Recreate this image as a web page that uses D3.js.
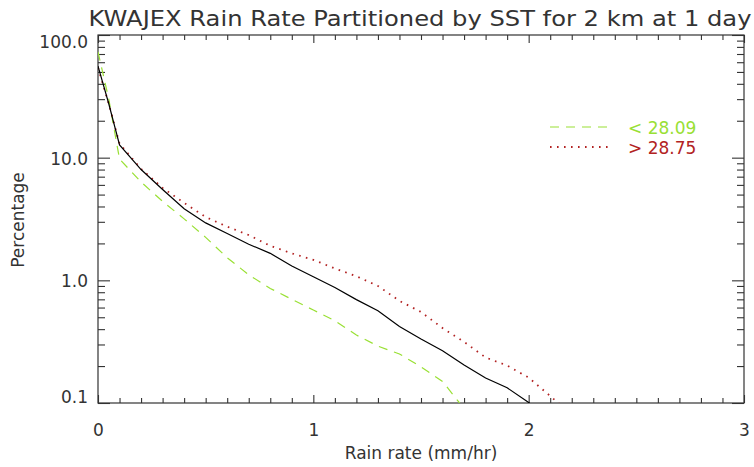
<!DOCTYPE html>
<html>
<head>
<meta charset="utf-8">
<script src="https://cdn.jsdelivr.net/npm/d3@7"></script>
<style>
  body { margin: 0; background: #fff; }
  svg { display: block; font-family: "DejaVu Sans", sans-serif; }
</style>
</head>
<body>
<svg id="vis-svg" width="754" height="467"></svg>
<script>
var width  = 754;
var height = 467;
var margin = { top: 35, bottom: 64, left: 98, right: 10 };

// rain rate bins (mm/hr) and percentages
const rainRate = [0, 0.05, 0.1, 0.2, 0.3, 0.4, 0.5, 0.6, 0.7, 0.8, 0.9, 1.0, 1.1, 1.2, 1.3, 1.4, 1.5, 1.6, 1.7, 1.8, 1.9, 2.0, 2.1, 2.2];
const pctAll  = [55.8, 27.5, 12.7, 8.0, 5.5, 3.84, 2.94, 2.41, 1.97, 1.66, 1.31, 1.07, 0.874, 0.696, 0.565, 0.42, 0.332, 0.267, 0.204, 0.16, 0.133, 0.101, 0.07, null];
const pctCold = [73, 30, 9.74, 6.33, 4.40, 3.17, 2.24, 1.53, 1.11, 0.859, 0.70, 0.573, 0.468, 0.358, 0.291, 0.251, 0.197, 0.150, 0.09, null, null, null, null, null];
const pctWarm = [54, 27.5, 13.0, 8.1, 5.67, 4.28, 3.28, 2.74, 2.34, 1.91, 1.66, 1.47, 1.25, 1.08, 0.90, 0.68, 0.552, 0.408, 0.315, 0.235, 0.202, 0.161, 0.114, 0.08];

const xTicks = [0, 1, 2, 3];
const yTicks = [0.1, 1, 10, 100];
const yTickLabels = ["0.1", "1.0", "10.0", "100.0"];
const legendLabels = ["< 28.09", "> 28.75"];

const green = "#99e034";
const red = "#b22222";
const axisColor = "#333";
const textColor = "#333";

const graphWidth = width - margin.left - margin.right;
const graphHeight = height - margin.top - margin.bottom;

const svg = d3.select("#vis-svg");
const graph = svg.append("g").attr("transform", `translate(${margin.left},${margin.top})`);

var x = d3.scaleLinear().domain([0, 3]).range([0, graphWidth]);
var y = d3.scaleLog().domain([0.1, 100]).range([graphHeight, 0]);

// minor ticks
const xMinor = d3.range(0, 30.5).map(d => d / 10).filter(d => !xTicks.includes(d));
const yMinor = [];
[0.1, 1, 10].forEach(dec => { for (let k = 2; k <= 9; k++) yMinor.push(dec * k); });

const styleAxis = g => {
  g.select(".domain").remove();
  g.selectAll("line").attr("stroke", axisColor).attr("stroke-width", 1.1);
  g.selectAll("text").attr("fill", textColor).attr("font-size", 17).attr("font-family", "DejaVu Sans, sans-serif");
};

// bottom
graph.append("g").attr("transform", `translate(0,${graphHeight})`)
  .call(d3.axisBottom(x).tickValues(xTicks).tickSizeInner(-8).tickSizeOuter(0).tickPadding(21).tickFormat(d3.format("d")))
  .call(styleAxis);
graph.append("g").attr("transform", `translate(0,${graphHeight})`)
  .call(d3.axisBottom(x).tickValues(xMinor).tickSizeInner(-5).tickSizeOuter(0).tickFormat(""))
  .call(styleAxis);
// top
graph.append("g")
  .call(d3.axisTop(x).tickValues(xTicks).tickSizeInner(-8).tickSizeOuter(0).tickFormat(""))
  .call(styleAxis);
graph.append("g")
  .call(d3.axisTop(x).tickValues(xMinor).tickSizeInner(-5).tickSizeOuter(0).tickFormat(""))
  .call(styleAxis);
// left (end labels nudged inside the frame, as in the original)
const yAxisG = graph.append("g")
  .call(d3.axisLeft(y).tickValues(yTicks).tickSizeInner(-12).tickSizeOuter(0).tickPadding(10)
    .tickFormat((d, i) => yTickLabels[i]))
  .call(styleAxis);
yAxisG.selectAll(".tick text").attr("y", d => d === 100 ? 7 : (d === 0.1 ? -6 : 1));
graph.append("g")
  .call(d3.axisLeft(y).tickValues(yMinor).tickSizeInner(-7).tickSizeOuter(0).tickFormat(""))
  .call(styleAxis);
// right
graph.append("g").attr("transform", `translate(${graphWidth},0)`)
  .call(d3.axisRight(y).tickValues(yTicks).tickSizeInner(-12).tickSizeOuter(0).tickFormat(""))
  .call(styleAxis);
graph.append("g").attr("transform", `translate(${graphWidth},0)`)
  .call(d3.axisRight(y).tickValues(yMinor).tickSizeInner(-7).tickSizeOuter(0).tickFormat(""))
  .call(styleAxis);

// frame
graph.append("rect")
  .attr("width", graphWidth).attr("height", graphHeight)
  .attr("fill", "none").attr("stroke", axisColor).attr("stroke-width", 1.2);

// clip
svg.append("defs").append("clipPath").attr("id", "clip")
  .append("rect").attr("width", graphWidth).attr("height", graphHeight);

const line = vals => d3.line()
  .defined((d, i) => vals[i] != null)
  .x(d => x(d))
  .y((d, i) => y(vals[i]))(rainRate);

const lines = graph.append("g").attr("clip-path", "url(#clip)");
lines.append("path").attr("d", line(pctCold)).attr("fill", "none")
  .attr("stroke", green).attr("stroke-width", 1.2).attr("stroke-dasharray", "9,7");
lines.append("path").attr("d", line(pctWarm)).attr("fill", "none")
  .attr("stroke", red).attr("stroke-width", 1.8).attr("stroke-dasharray", "1.6,5.4");
lines.append("path").attr("d", line(pctAll)).attr("fill", "none")
  .attr("stroke", "#000").attr("stroke-width", 1.2);

// legend
const legend = svg.append("g");
const legendColors = [green, red];
const legendDash = ["9,7", "1.6,5.4"];
legendLabels.forEach((lab, i) => {
  const ly = 127 + i * 20;
  legend.append("line").attr("x1", 550).attr("x2", 612).attr("y1", ly).attr("y2", ly)
    .attr("stroke", legendColors[i]).attr("stroke-width", i ? 1.8 : 1.2).attr("stroke-dasharray", legendDash[i]);
  legend.append("text").attr("x", 628).attr("y", ly + 6.5)
    .attr("fill", legendColors[i]).attr("font-size", 17).text(lab);
});

// titles
svg.append("text").attr("x", 420).attr("y", 26).attr("text-anchor", "middle")
  .attr("font-size", 22).attr("fill", textColor)
  .attr("textLength", 663).attr("lengthAdjust", "spacingAndGlyphs")
  .text("KWAJEX Rain Rate Partitioned by SST for 2 km at 1 day");
svg.append("text").attr("x", 421).attr("y", 459).attr("text-anchor", "middle")
  .attr("font-size", 17).attr("fill", textColor).text("Rain rate (mm/hr)");
svg.append("text").attr("transform", "translate(24,220) rotate(-90)").attr("text-anchor", "middle")
  .attr("font-size", 17).attr("fill", textColor).text("Percentage");
</script>
</body>
</html>
